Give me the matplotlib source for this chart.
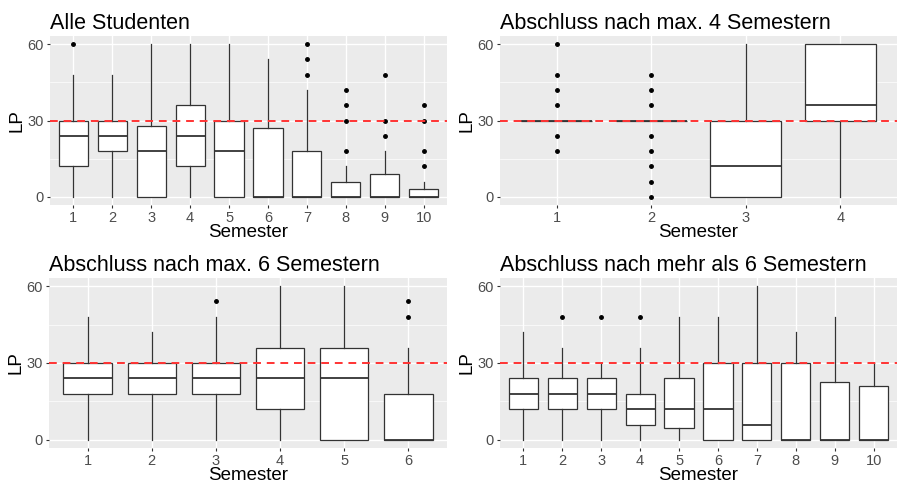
import matplotlib.pyplot as plt
from matplotlib.ticker import FixedLocator

plt.rcParams["font.family"] = ["Liberation Sans", "DejaVu Sans"]

# Alle Studenten (Semester 1-10)
alle_lo = [0, 0, 0, 0, 0, 0, 0, 0, 0, 0]
alle_q1 = [12, 18, 0, 12, 0, 0, 0, 0, 0, 0]
alle_med = [24, 24, 18, 24, 18, 0, 0, 0, 0, 0]
alle_q3 = [30, 30, 28, 36, 30, 27, 18, 6, 9, 3]
alle_hi = [48, 48, 60, 60, 60, 54, 42, 12, 18, 6]
alle_out = [[60], [], [], [], [], [], [48, 54, 60], [18, 30, 36, 42],
            [24, 30, 48], [12, 18, 30, 36]]

# Abschluss nach max. 4 Semestern (Semester 1-4)
max4_lo = [30, 30, 0, 0]
max4_q1 = [30, 30, 0, 30]
max4_med = [30, 30, 12, 36]
max4_q3 = [30, 30, 30, 60]
max4_hi = [30, 30, 60, 60]
max4_out = [[18, 24, 36, 42, 48, 60], [0, 6, 12, 18, 24, 36, 42, 48], [], []]

# Abschluss nach max. 6 Semestern (Semester 1-6)
max6_lo = [0, 0, 0, 0, 0, 0]
max6_q1 = [18, 18, 18, 12, 0, 0]
max6_med = [24, 24, 24, 24, 24, 0]
max6_q3 = [30, 30, 30, 36, 36, 18]
max6_hi = [48, 42, 48, 60, 60, 36]
max6_out = [[], [], [54], [], [], [48, 54]]

# Abschluss nach mehr als 6 Semestern (Semester 1-10)
mehr_lo = [0, 0, 0, 0, 0, 0, 0, 0, 0, 0]
mehr_q1 = [12, 12, 12, 6, 4.5, 0, 0, 0, 0, 0]
mehr_med = [18, 18, 18, 12, 12, 12, 6, 0, 0, 0]
mehr_q3 = [24, 24, 24, 18, 24, 30, 30, 30, 22.5, 21]
mehr_hi = [42, 36, 30, 36, 48, 48, 60, 42, 48, 30]
mehr_out = [[], [48], [48], [48], [], [], [], [], [], []]

titles = ["Alle Studenten", "Abschluss nach max. 4 Semestern",
          "Abschluss nach max. 6 Semestern", "Abschluss nach mehr als 6 Semestern"]
y_ticks = [0, 30, 60]
y_minor = [15, 45]
grenze = 30


def make_stats(lo, q1, med, q3, hi, out):
    return [dict(whislo=a, q1=b, med=c, q3=d, whishi=e, fliers=f)
            for a, b, c, d, e, f in zip(lo, q1, med, q3, hi, out)]


panels = [
    make_stats(alle_lo, alle_q1, alle_med, alle_q3, alle_hi, alle_out),
    make_stats(max4_lo, max4_q1, max4_med, max4_q3, max4_hi, max4_out),
    make_stats(max6_lo, max6_q1, max6_med, max6_q3, max6_hi, max6_out),
    make_stats(mehr_lo, mehr_q1, mehr_med, mehr_q3, mehr_hi, mehr_out),
]

W, H = 899, 486
fig = plt.figure(figsize=(W / 100, H / 100), dpi=100)
rects = [(50, 36, 447, 205), (500, 36, 897, 205),
         (49, 278, 447, 448), (500, 278, 897, 448)]

for stats, title, (x0, y0, x1, y1) in zip(panels, titles, rects):
    ax = fig.add_axes([x0 / W, 1 - y1 / H, (x1 - x0) / W, (y1 - y0) / H])
    ax.set_facecolor("#EBEBEB")
    n = len(stats)
    pos = list(range(1, n + 1))
    ax.bxp(stats, positions=pos, widths=0.75, patch_artist=True,
           showcaps=False,
           boxprops=dict(facecolor="white", edgecolor="#333333", linewidth=0.9),
           medianprops=dict(color="#333333", linewidth=1.3),
           whiskerprops=dict(color="#333333", linewidth=0.9),
           flierprops=dict(marker="o", markersize=2.5, markerfacecolor="black",
                           markeredgecolor="black", linestyle="none"),
           zorder=3)
    ax.axhline(grenze, color="#FF3333", linestyle=(0, (4, 3)), linewidth=1.4, zorder=4)
    ax.set_xlim(0.4, n + 0.6)
    ax.set_ylim(-3.15, 63.15)
    ax.set_xticks(pos)
    ax.set_xticklabels([str(p) for p in pos])
    ax.set_yticks(y_ticks)
    ax.yaxis.set_minor_locator(FixedLocator(y_minor))
    ax.grid(which="major", color="white", linewidth=1.0, zorder=0)
    ax.grid(which="minor", axis="y", color="white", linewidth=0.5, zorder=0)
    ax.set_axisbelow(True)
    for s in ax.spines.values():
        s.set_visible(False)
    ax.tick_params(which="major", length=2.5, width=0.8, color="#333333",
                   labelsize=10.5, labelcolor="#4D4D4D", pad=2)
    ax.tick_params(which="minor", length=0)
    ax.set_xlabel("Semester", fontsize=13.5, labelpad=-1)
    ax.set_ylabel("LP", fontsize=13.5, labelpad=1)
    ax.set_title(title, loc="left", fontsize=15.5, pad=5)

fig.savefig("out.png", dpi=100, facecolor="white")
